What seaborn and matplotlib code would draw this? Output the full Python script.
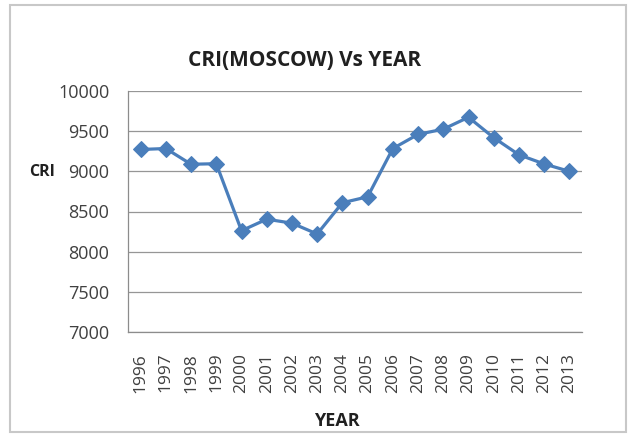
import matplotlib
matplotlib.use("Agg")
import matplotlib.pyplot as plt
from matplotlib.patches import Rectangle
import numpy as np
import seaborn as sns

YEARS = [1996, 1997, 1998, 1999, 2000, 2001, 2002, 2003, 2004,
         2005, 2006, 2007, 2008, 2009, 2010, 2011, 2012, 2013]
CRI = [9272, 9284, 9088, 9095, 8261, 8404, 8355, 8220, 8609,
       8683, 9284, 9460, 9525, 9673, 9419, 9206, 9092, 9000]
Y_TICKS = [7000, 7500, 8000, 8500, 9000, 9500, 10000]

LINE_COLOR = "#4a7ebb"
TEXT_COLOR = "#404040"

sns.set_style("white")
plt.rcParams["font.family"] = ["Open Sans", "DejaVu Sans"]

fig = plt.figure(figsize=(6.34, 4.37), dpi=100)
ax = fig.add_axes([128 / 634, 1 - 332 / 437, (582 - 128) / 634, (332 - 91) / 437])

fig.patches.append(Rectangle((10 / 634, 5 / 437), 616 / 634, 427 / 437,
                             transform=fig.transFigure, fill=False,
                             edgecolor="#c8c8c8", lw=1.5))

sns.lineplot(x=YEARS, y=CRI, ax=ax, color=LINE_COLOR, lw=2.3, marker="D",
             markersize=8, markeredgecolor=LINE_COLOR)

ax.set_xlim(YEARS[0] - 0.5, YEARS[-1] + 0.5)
ax.set_ylim(Y_TICKS[0], Y_TICKS[-1])
ax.set_yticks(Y_TICKS)
ax.set_xticks(YEARS)
ax.set_xticklabels([str(y) for y in YEARS], rotation=90)
ax.set_xticks(np.arange(YEARS[0] - 0.5, YEARS[-1] + 1), minor=True)
ax.tick_params(axis="x", which="major", length=0, pad=15, labelsize=12.5, labelcolor=TEXT_COLOR)
ax.tick_params(axis="x", which="minor", length=5, color="#a0a0a0", width=0.8)
ax.tick_params(axis="y", length=4.5, color="#a0a0a0", width=0.8, pad=9,
               labelsize=13, labelcolor=TEXT_COLOR)

ax.grid(axis="y", color="#969696", lw=0.9)
ax.set_axisbelow(True)
for side in ["top", "right"]:
    ax.spines[side].set_visible(False)
for side in ["left", "bottom"]:
    ax.spines[side].set_color("#8c8c8c")
    ax.spines[side].set_linewidth(0.9)

ax.set_xlabel("")
ax.set_ylabel("")
fig.text(305 / 634, 1 - 60 / 437, "CRI(MOSCOW) Vs YEAR", ha="center", va="center",
         fontsize=15, fontweight="bold", color="#202020")
fig.text(42 / 634, 1 - 172 / 437, "CRI", ha="center", va="center",
         fontsize=11.5, fontweight="bold", color="#202020")
fig.text(337 / 634, 1 - 421 / 437, "YEAR", ha="center", va="center",
         fontsize=13, fontweight="bold", color="#202020")

fig.savefig("out.png", dpi=100, facecolor="white")
